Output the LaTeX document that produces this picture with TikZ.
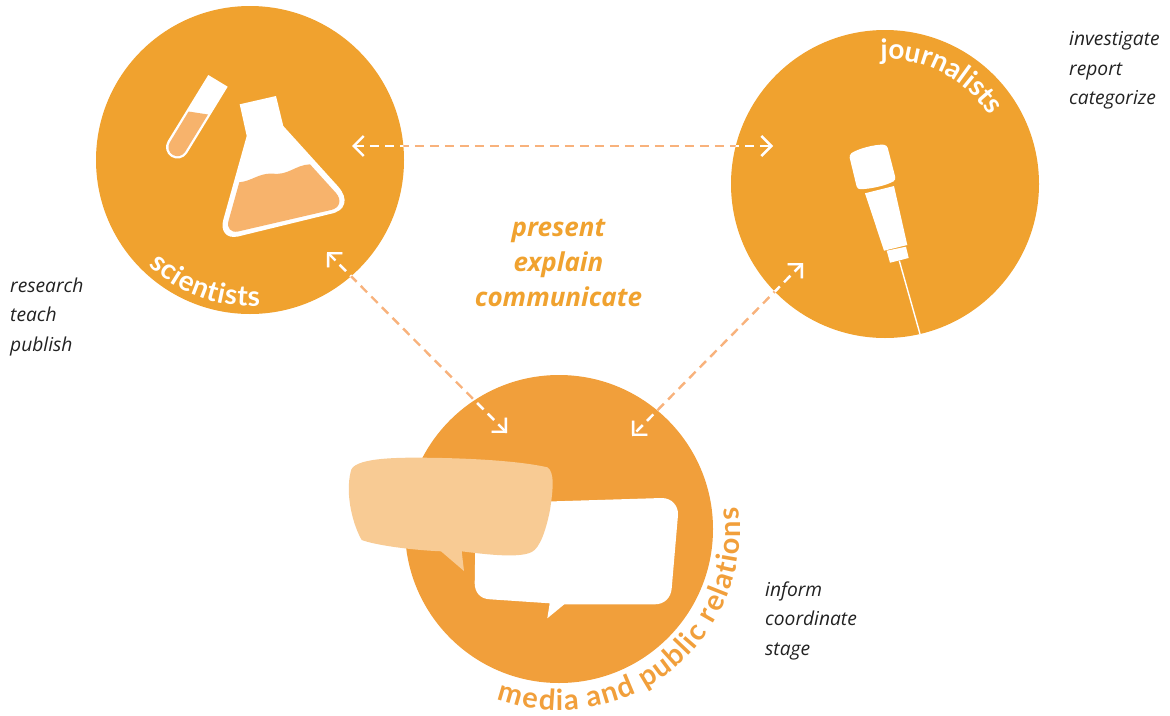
\documentclass[tikz,border=0pt]{standalone}
\usepackage{fontspec}
\setmainfont{Open Sans}
\newfontfamily\labelfont{Lato}
\usetikzlibrary{arrows.meta,decorations.text}
\definecolor{discorange}{HTML}{F0A22F}
\definecolor{mediaorange}{HTML}{F19F3B}
\definecolor{linkpeach}{HTML}{F8B27C}
\definecolor{liquidpeach}{HTML}{F7B36C}
\definecolor{bubblepeach}{HTML}{F8CB94}
\definecolor{verbgrey}{HTML}{222222}
\tikzset{
  disc/.style={circle,fill=discorange,minimum size=308pt,inner sep=0pt},
  link/.style={<->,>={Straight Barb[length=10pt,width=20pt,line width=2.4pt]},dash pattern=on 9pt off 6pt,line width=2.4pt},
  verbs/.style={anchor=north west,align=left,inner sep=0pt,text=verbgrey,font=\fontsize{19.2}{29.5}\selectfont\itshape}
}
\begin{document}
\begin{tikzpicture}[x=1pt,y=-1pt]
\useasboundingbox (0,0) rectangle (1170,715);

\node[disc] (scientists) at (250,160) {};
\node[disc] (journalists) at (885,184) {};
\node[disc,fill=mediaorange] (media) at (559,529) {};

\coordinate (sciright) at (352,146);
\coordinate (jourleft) at (773,146);
\coordinate (scilow) at (327,252);
\coordinate (medialeft) at (507,433);
\coordinate (jourlow) at (803,263);
\coordinate (mediaright) at (632,436);

% peach outside the discs, white on them
\draw[link,linkpeach] (sciright) -- (jourleft);
\draw[link,linkpeach] (scilow) -- (medialeft);
\draw[link,linkpeach] (jourlow) -- (mediaright);
\foreach \disc in {scientists,journalists,media} {
  \begin{scope}
    \clip (\disc) circle (154);
    \draw[link,white] (sciright) -- (jourleft);
    \draw[link,white] (scilow) -- (medialeft);
    \draw[link,white] (jourlow) -- (mediaright);
  \end{scope}
}

% test tube
\fill[white] (208.3,75) -- (227.7,86.7) -- (187.1,153.1) arc[start angle=31.4,end angle=211.4,radius=11.4] -- cycle;
\fill[liquidpeach] (188.6,111.5) -- (208,114.5) -- (185.1,151.9) arc[start angle=31.4,end angle=211.4,radius=9] -- cycle;

% flask
\fill[white] (239.7,104.3) -- (276,96) -- (283.3,126) -- (338.3,186.7) .. controls (349,199) and (346,211) .. (330,214) -- (238,236.5) .. controls (226,239) and (220,231) .. (223.5,219) -- (246.7,136) -- cycle;
\fill[liquidpeach] (239.3,182.3) .. controls (252,181) and (258,173.5) .. (272,173.5) .. controls (288,176) and (295,165) .. (310,164.3) -- (336,193) .. controls (342,200) and (340,208) .. (331,210) -- (238,231.5) .. controls (231,233) and (226.5,228) .. (228.5,221) -- cycle;

% microphone
\fill[white,rounded corners=3pt] (849,155) .. controls (857,149) and (875,144) .. (887,145) -- (896,180) .. controls (885,186) and (870,189) .. (857.3,189.3) -- cycle;
\fill[white] (865,193.3) -- (894,186) -- (907.3,245) -- (884,250.7) -- cycle;
\fill[white] (886.7,250.7) -- (906,246.7) -- (908.7,258) -- (890,262.7) -- cycle;
\draw[white,line width=1.4pt] (899.3,260.7) -- (920,334);

% speech bubbles
\fill[white] (475.7,520) -- (474.7,583.3) .. controls (474.7,592) and (480,599) .. (490,599.3) -- (549.7,603.3) -- (547.3,618.3) -- (564.3,604.3) -- (655,604.3) .. controls (664,604.3) and (671,598) .. (671.7,588.3) -- (678,515) .. controls (678.5,506) and (672,498) .. (661.7,498) -- (500,503) -- cycle;
\fill[bubblepeach] (350.7,471.7) .. controls (352,458) and (395,457.5) .. (421.7,457.7) .. controls (470,458) and (520,461) .. (547.3,467.3) .. controls (555,472) and (553,490) .. (550,510) .. controls (546,530) and (540,548) .. (531.7,552) .. controls (520,558) and (490,555) .. (461.7,551.3) -- (464,571) -- (441,551.3) .. controls (410,550) and (375,545) .. (361.7,540) .. controls (353,525) and (345,495) .. (350.7,471.7) -- cycle;

% labels on the discs
\path[decorate,decoration={text along path,text align={fit to path},text={|\fontsize{28}{28}\labelfont\bfseries\color{white}|scientists}}]
  (scientists) ++(134:146) arc[start angle=134,end angle=86,radius=146];
\path[decorate,decoration={text along path,text align={fit to path},text={|\fontsize{28}{28}\labelfont\bfseries\color{white}|journalists}}]
  (journalists) ++(-92:125) arc[start angle=-92,end angle=-33,radius=125];
\path[decorate,decoration={text along path,text align={fit to path},text={|\fontsize{29}{29}\labelfont\bfseries\color{mediaorange}|media and public relations}}]
  (media) ++(110:181) arc[start angle=110,end angle=-7,radius=181];

% verbs
\node[verbs] (sciverbs) at (10,277.5) {research\\teach\\publish};
\node[verbs] (jourverbs) at (1069,31.5) {investigate\\report\\categorize};
\node[verbs] (mediaverbs) at (765,581.5) {inform\\coordinate\\stage};
\node[align=center,inner sep=0pt,text=discorange,font=\fontsize{26}{35}\selectfont\bfseries\itshape] (shared) at (558.5,263) {present\\explain\\communicate};
\end{tikzpicture}
\end{document}
